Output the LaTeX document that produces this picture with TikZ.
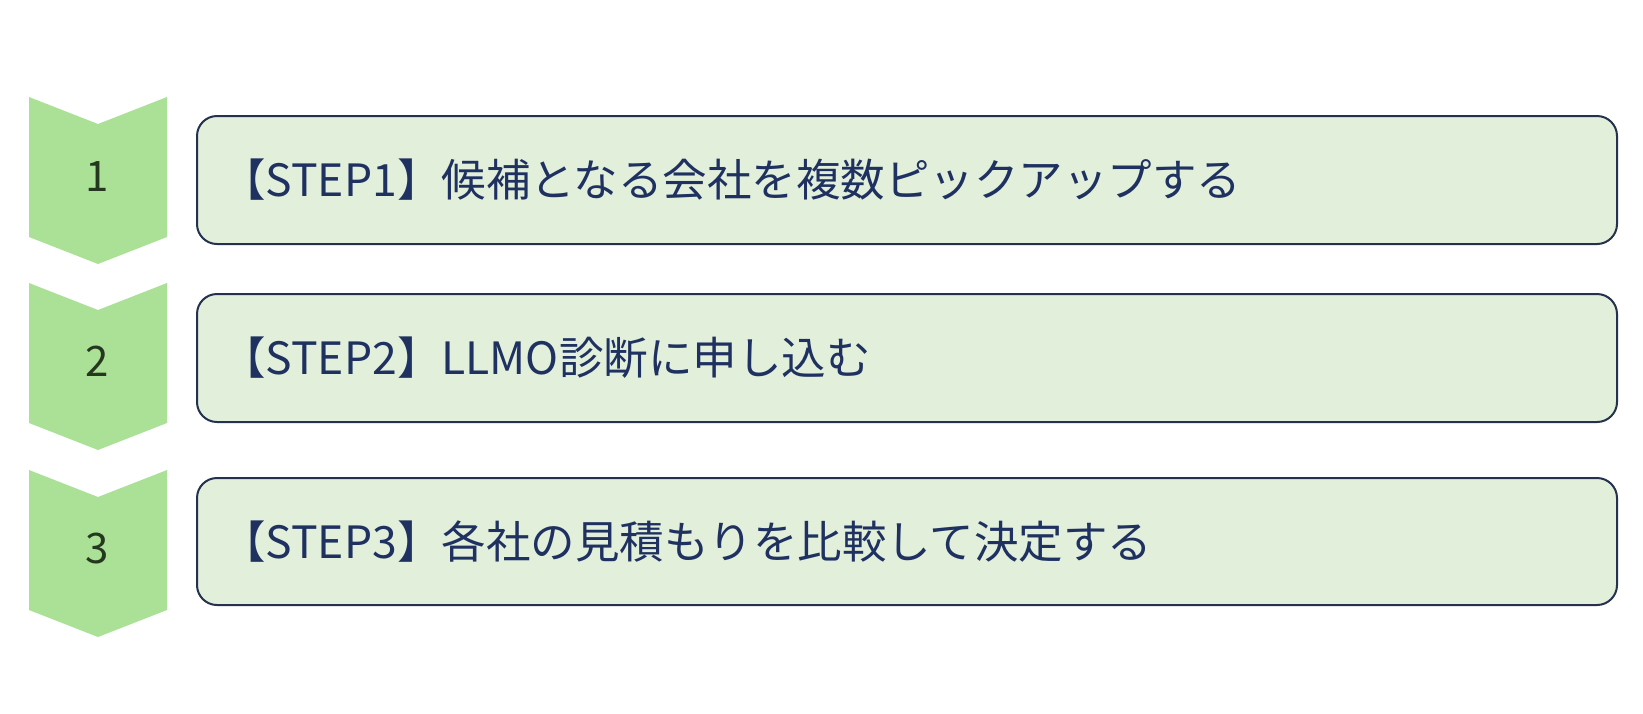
\documentclass[tikz,border=0pt]{standalone}
\usepackage{fontspec}
\setmainfont{Noto Sans CJK JP}
\definecolor{chevgreen}{HTML}{ABE196}
\definecolor{boxfill}{HTML}{E2EFDA}
\definecolor{boxline}{HTML}{24324F}
\definecolor{textnavy}{HTML}{1F3160}
\definecolor{numcol}{HTML}{25381F}
\tikzset{
  chevshape/.style={fill=chevgreen},
  numlabel/.style={font=\fontsize{42}{46}\selectfont, text=numcol, inner sep=0pt},
  stepbox/.style={draw=boxline, line width=2pt, fill=boxfill, rounded corners=20pt, minimum width=1420pt, inner sep=0pt},
  steptext/.style={font=\fontsize{44.5}{50}\selectfont, text=textnavy, inner sep=0pt}
}
\newcommand\mychev[1]{%
  \fill[chevshape] (29,#1) -- (98,{#1+27}) -- (167,#1) -- (167,{#1+140}) -- (98,{#1+167}) -- (29,{#1+140}) -- cycle;}
\begin{document}
\begin{tikzpicture}[x=1pt,y=-1pt]
\useasboundingbox[fill=white] (0,0) rectangle (1643,713);
\mychev{97}
\mychev{283}
\mychev{470}
\node[numlabel] (n1) at (97,177) {1};
\node[numlabel] (n2) at (97,361) {2};
\node[numlabel] (n3) at (97,549) {3};
\node[stepbox, minimum height=128pt, anchor=north west] (b1) at (196,115) {};
\node[stepbox, minimum height=128pt, anchor=north west] (b2) at (196,293) {};
\node[stepbox, minimum height=127pt, anchor=north west] (b3) at (196,477) {};
\node[steptext, anchor=west] (t1) at ([xshift=25pt]b1.west) {【STEP1】候補となる会社を複数ピックアップする};
\node[steptext, anchor=west] (t2) at ([xshift=25pt]b2.west) {【STEP2】LLMO診断に申し込む};
\node[steptext, anchor=west] (t3) at ([xshift=25pt]b3.west) {【STEP3】各社の見積もりを比較して決定する};
\end{tikzpicture}
\end{document}
